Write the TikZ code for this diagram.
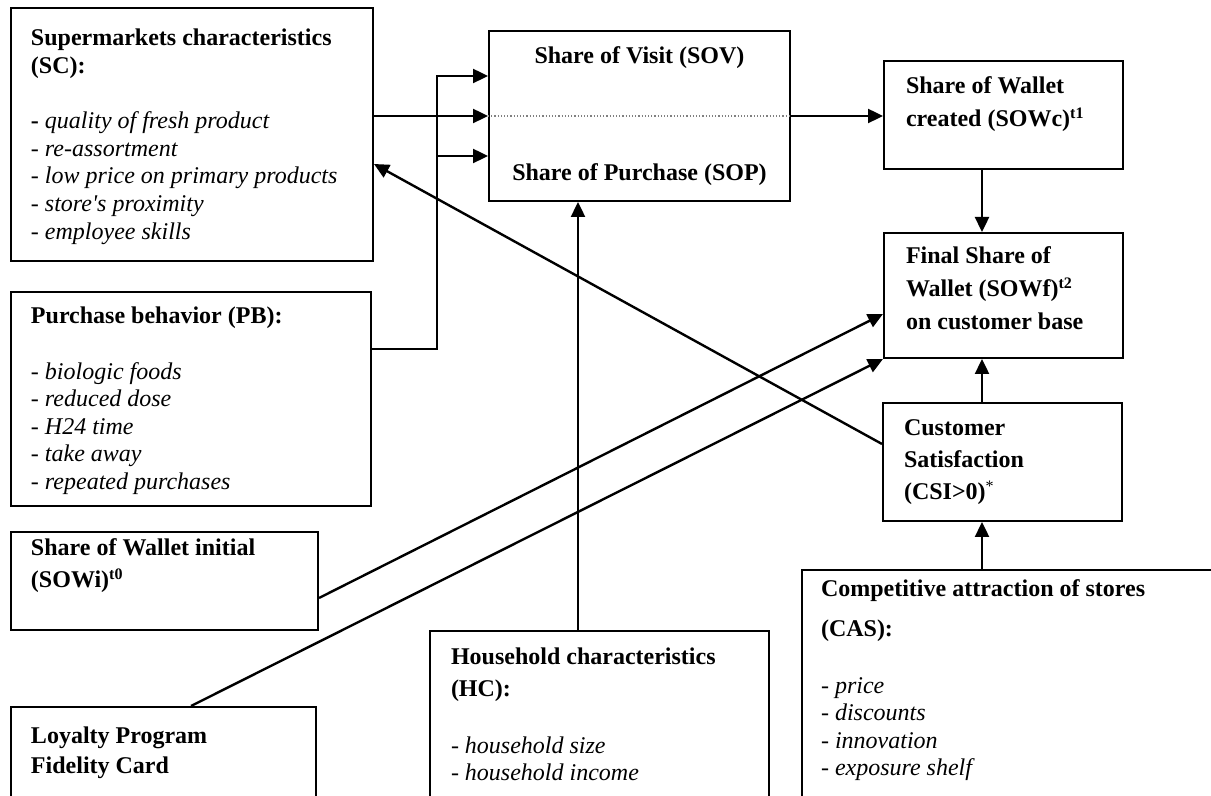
\documentclass[tikz,border=0pt]{standalone}
\usepackage{fontspec}
\setmainfont{Liberation Serif}
\usetikzlibrary{arrows.meta,positioning}

% text block of a box: width, height, top gap, lines
\newcommand{\boxbody}[4]{\parbox[c][#2][t]{#1}{\raggedright\vspace*{#3}\rule{0pt}{10pt}#4}}

\begin{document}
\begin{tikzpicture}[x=0.5pt,y=-0.5pt,
  box/.style={draw,line width=1pt,anchor=north west,inner xsep=10pt,inner ysep=0pt,font=\fontsize{12}{13.8}\selectfont},
  arr/.style={line width=1.2pt,-{Triangle[length=7.5pt,width=7pt]}}]
  \useasboundingbox (0,0) rectangle (1211,796);
  \clip (0,0) rectangle (1211,796);

  \node[box] (sc) at (10,7) {\boxbody{161pt}{126.5pt}{9pt}{\textbf{Supermarkets characteristics\\(SC):}\\[13.8pt]\textbf{-} \textit{quality of fresh product}\\- \textit{re-assortment}\\- \textit{low price on primary products}\\- \textit{store\textquotesingle s proximity}\\- \textit{employee skills}}};
  \node[box,inner xsep=5pt] (sov) at (488,30) {\boxbody{140.5pt}{85pt}{6.5pt}{\centering\textbf{Share of Visit (SOV)}\\[44.7pt]\textbf{Share of Purchase (SOP)}}};
  \node[box,inner xsep=11pt,font=\fontsize{12}{16.5}\selectfont] (sowc) at (883,60) {\boxbody{97.5pt}{54pt}{6.5pt}{\textbf{Share of Wallet\\created (SOWc)\textsuperscript{t1}}}};
  \node[box,inner xsep=11pt,font=\fontsize{12}{16.5}\selectfont] (final) at (883,232) {\boxbody{97.5pt}{62.5pt}{5.5pt}{\textbf{Final Share of\\Wallet (SOWf)\textsuperscript{t2}\\on customer base}}};
  \node[box,inner xsep=10.5pt,font=\fontsize{12}{16}\selectfont] (csi) at (882,402) {\boxbody{98.5pt}{59pt}{6.5pt}{\textbf{Customer\\Satisfaction\\(CSI>0)}\textsuperscript{*}}};
  \node[box] (pb) at (10,291) {\boxbody{160pt}{107pt}{6pt}{\textbf{Purchase behavior (PB):}\\[13.8pt]- \textit{biologic foods}\\- \textit{reduced dose}\\- \textit{H24 time}\\- \textit{take away}\\- \textit{repeated purchases}}};
  \node[box,font=\fontsize{12}{16}\selectfont] (sowi) at (10,531) {\boxbody{133.5pt}{49pt}{2pt}{\textbf{Share of Wallet initial\\(SOWi)\textsuperscript{t0}}}};
  \node[box,font=\fontsize{12}{15}\selectfont] (loyal) at (10,706) {\boxbody{132.5pt}{120pt}{8pt}{\textbf{Loyalty Program\\Fidelity Card}}};
  \node[box,inner xsep=10.5pt] (hc) at (429,630) {\boxbody{148.5pt}{120pt}{6.5pt}{\textbf{Household characteristics\\[2.2pt](HC):}\\[14.7pt]- \textit{household size}\\- \textit{household income}}};
  \node[box,inner xsep=9.5pt] (cas) at (801,569) {\boxbody{196pt}{150pt}{3pt}{\textbf{Competitive attraction of stores\\[6.2pt](CAS):}\\[14.7pt]- \textit{price}\\- \textit{discounts}\\- \textit{innovation}\\- \textit{exposure shelf}}};

  \draw[densely dotted,gray,line width=0.6pt] (sov.west) -- (sov.east);

  % inputs of SOV / SOP
  \coordinate (visit) at ([yshift=20pt]sov.west);
  \coordinate (purch) at ([yshift=-20pt]sov.west);
  \coordinate (bus) at ([xshift=-25.5pt]visit);
  \draw[arr] (sov.west -| sc.east) -- (sov.west);
  \draw[arr] ([yshift=25pt]pb.east) -| (bus) -- (visit);
  \draw[arr] (bus |- purch) -- (purch);
  \coordinate (hcfoot) at ([xshift=-10.75pt]hc.north);
  \draw[arr] (hcfoot) -- (hcfoot |- sov.south);

  % right column
  \draw[arr] (sov.east) -- (sov.east -| sowc.west);
  \draw[arr] ([xshift=-10.75pt]sowc.south) -- ([xshift=-10.75pt]final.north);
  \draw[arr] ([xshift=-10.25pt]csi.north) -- ([xshift=-10.75pt]final.south);
  \coordinate (csifoot) at ([xshift=-10.25pt]csi.south);
  \draw[arr] (csifoot |- cas.north) -- (csifoot);

  % diagonals
  \draw[arr] ([yshift=9pt]csi.west) -- ([yshift=-14.75pt]sc.east);
  \draw[arr] ([yshift=-8.5pt]sowi.east) -- ([yshift=-9.25pt]final.west);
  \draw[arr] ([xshift=13.75pt]loyal.north) -- (final.south west);
\end{tikzpicture}
\end{document}
